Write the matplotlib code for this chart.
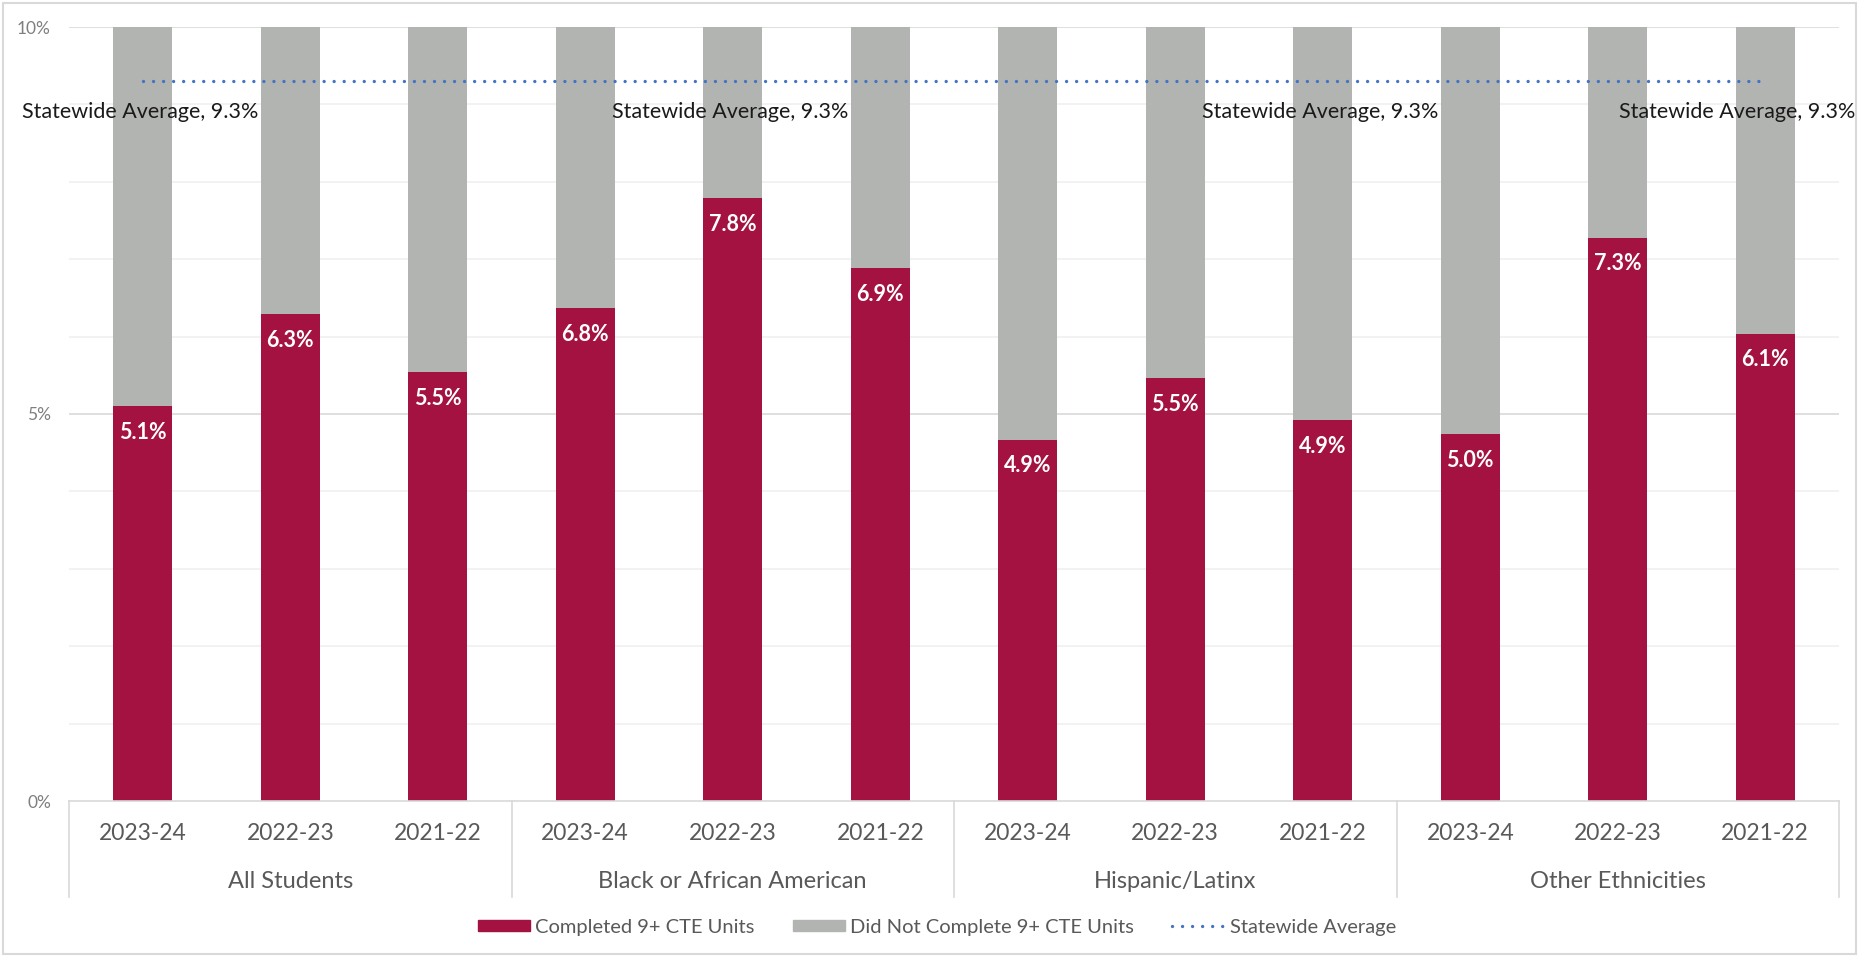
import numpy as np
import matplotlib
matplotlib.use("Agg")
import matplotlib.pyplot as plt
from matplotlib.patches import Patch, Rectangle
from matplotlib.lines import Line2D
import matplotlib.transforms as mtransforms

plt.rcParams['font.family'] = ['Lato', 'DejaVu Sans']

# donnees
groupes = ["All Students", "Black or African American", "Hispanic/Latinx", "Other Ethnicities"]
annees = ["2023-24", "2022-23", "2021-22"]
completes = [5.10, 6.29, 5.54, 6.37, 7.79, 6.89, 4.67, 5.47, 4.92, 4.74, 7.28, 6.04]
etiquettes = ["5.1%", "6.3%", "5.5%", "6.8%", "7.8%", "6.9%", "4.9%", "5.5%", "4.9%", "5.0%", "7.3%", "6.1%"]
moyenne_etat = 9.3
positions_moyenne = [0, 4, 8, 11]

rouge = "#A31240"
gris = "#B2B4B1"
bleu = "#4472C4"
texte_gris = "#595959"

n = len(completes)
x = np.arange(n)
non_completes = [100 - v for v in completes]

fig = plt.figure(figsize=(18.59, 9.57), dpi=100)
ax = fig.add_axes([69/1859, 1 - 801/957, 1770/1859, 774/957])
h_ax = 774

# grille
for g in range(1, 10):
    ax.axhline(g, color="#D9D9D9" if g == 5 else "#F0F0F0", lw=1.2, zorder=0)
ax.axhline(10, color="#D9D9D9", lw=1.2, zorder=0)

ax.bar(x, completes, width=0.40, color=rouge, zorder=2)
ax.bar(x, non_completes, width=0.40, bottom=completes, color=gris, zorder=2)

ax.plot(x, [moyenne_etat] * n, color=bleu, lw=2.4, linestyle=(0, (0.01, 3.0)),
        dash_capstyle="round", zorder=3)

# etiquettes des barres
for xi, v, t in zip(x, completes, etiquettes):
    ax.annotate(t, xy=(xi, v), xytext=(0, -19), textcoords="offset points",
                ha="center", va="center", color="white", fontsize=15.5, fontweight="bold", zorder=4)

# etiquettes de la moyenne
for i in positions_moyenne:
    dx = -20 if i == n - 1 else -2
    ax.annotate(f"Statewide Average, {moyenne_etat}%", xy=(i, moyenne_etat), xytext=(dx, -22),
                textcoords="offset points", ha="center", va="center", color="#1a1a1a", fontsize=15.5, zorder=4)

ax.set_xlim(-0.5, n - 0.5)
ax.set_ylim(0, 10)
ax.set_yticks([0, 5, 10])
ax.set_yticklabels(["0%", "5%", "10%"], color="#7F7F7F", fontsize=12.5)
ax.tick_params(axis="y", length=0, pad=13)
ax.set_xticks([])
for s in ["top", "right", "left"]:
    ax.spines[s].set_visible(False)
ax.spines["bottom"].set_color("#D9D9D9")
ax.spines["bottom"].set_linewidth(1.2)

# axe des categories a deux niveaux
trans = mtransforms.blended_transform_factory(ax.transData, ax.transAxes)
for gi, nom in enumerate(groupes):
    for ai, an in enumerate(annees):
        ax.text(gi * 3 + ai, -32/h_ax, an, transform=trans, ha="center", va="center",
                fontsize=16.5, color=texte_gris)
    ax.text(gi * 3 + 1, -81/h_ax, nom, transform=trans, ha="center", va="center",
            fontsize=17, color=texte_gris)
for b in range(len(groupes) + 1):
    ax.plot([b * 3 - 0.5, b * 3 - 0.5], [0, -96/h_ax], transform=trans, color="#D9D9D9",
            lw=1.2, clip_on=False)

# legende
poignees = [Patch(color=rouge), Patch(color=gris),
            Line2D([], [], color=bleu, lw=2.4, linestyle=(0, (0.01, 3.0)), dash_capstyle="round")]
fig.legend(poignees, ["Completed 9+ CTE Units", "Did Not Complete 9+ CTE Units", "Statewide Average"],
           loc="center", bbox_to_anchor=(0.504, 1 - 927/957), ncol=3, frameon=False,
           fontsize=14.5, labelcolor=texte_gris, handlelength=2.6, handleheight=0.5,
           handletextpad=0.25, columnspacing=1.9)

# cadre du graphique
fig.patches.append(Rectangle((0.0015, 0.003), 0.997, 0.994, transform=fig.transFigure,
                             fill=False, edgecolor="#D9D9D9", lw=1.5))

fig.savefig("out.png", dpi=100)
